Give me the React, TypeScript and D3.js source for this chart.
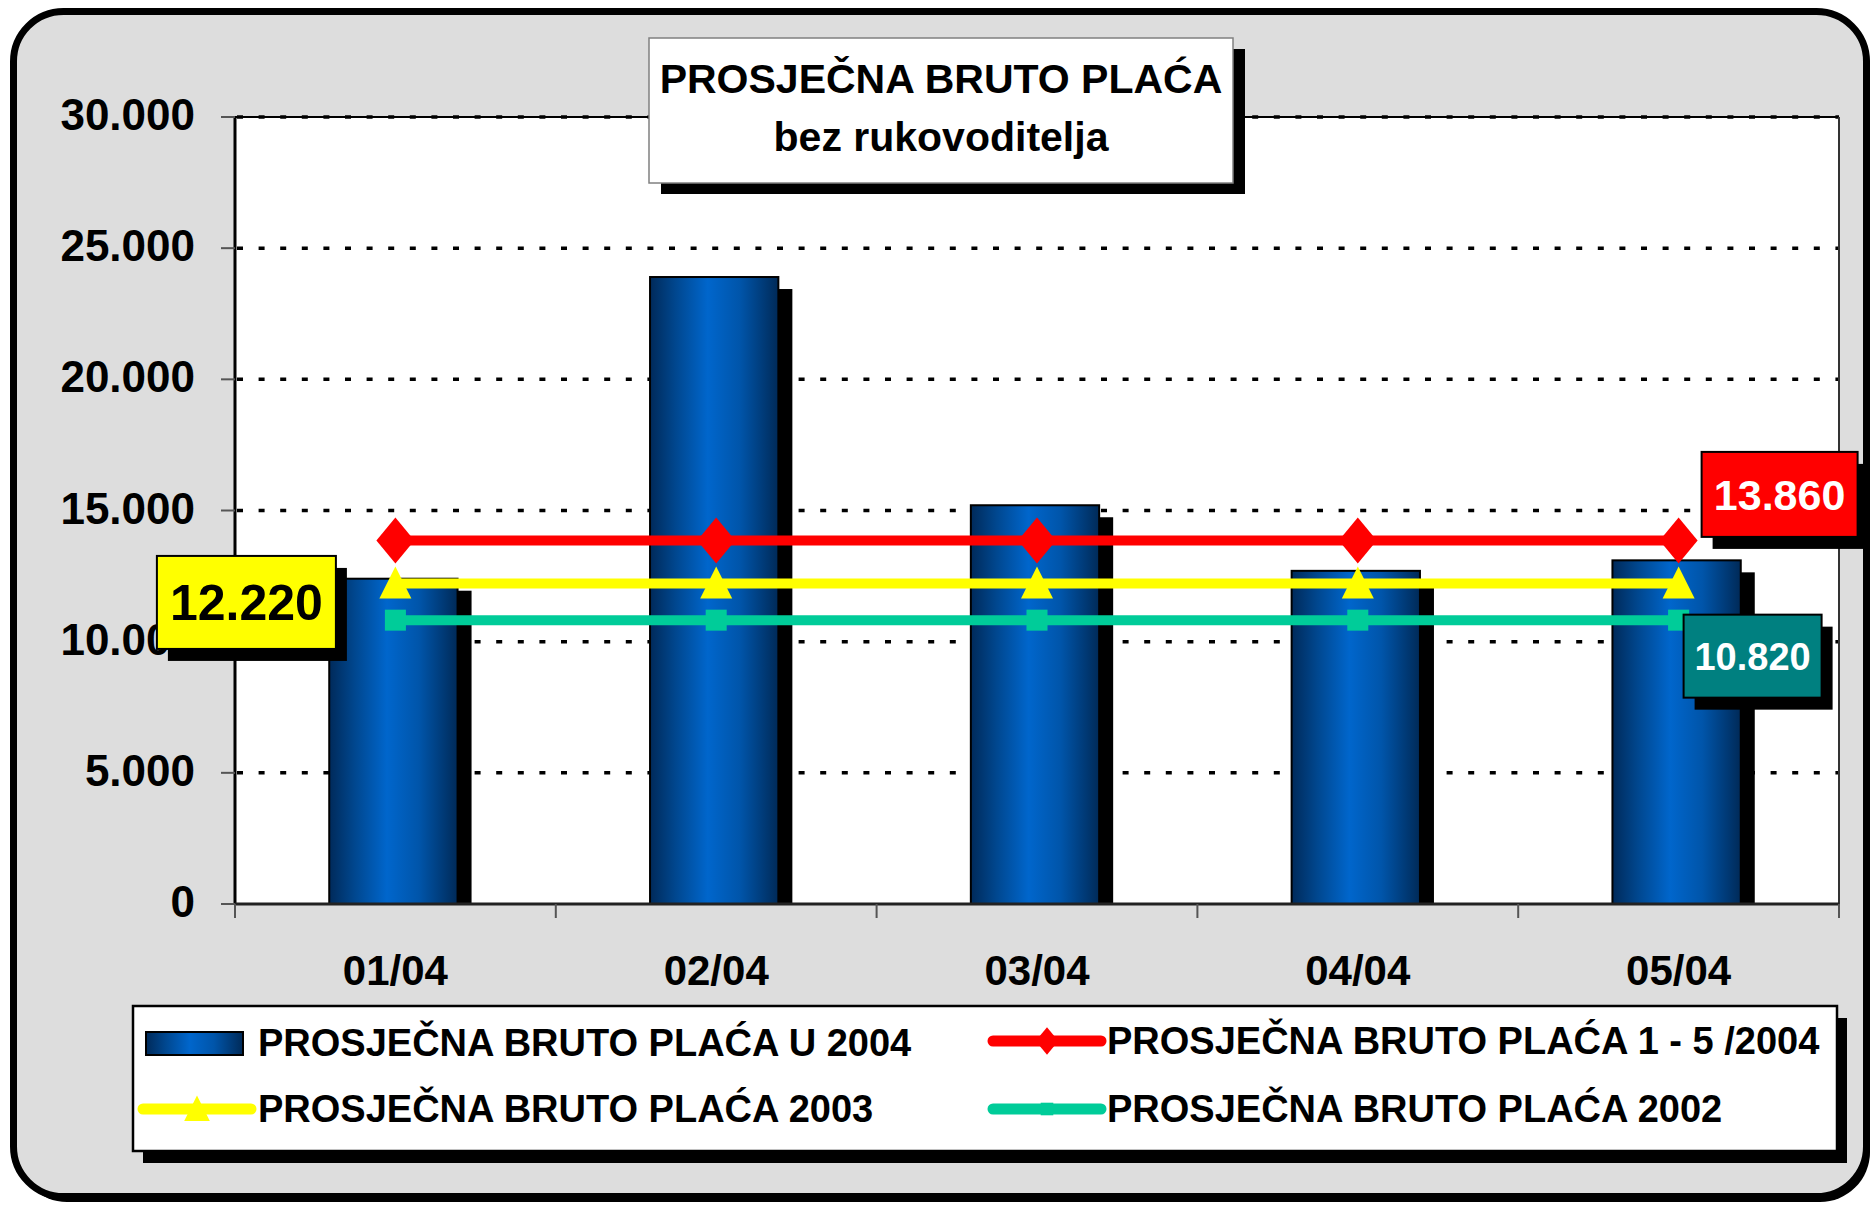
import React from 'react';
import * as d3 from 'd3';

// data
const categories = ['01/04', '02/04', '03/04', '04/04', '05/04'];
const bars2004 = [12400, 23900, 15200, 12700, 13100];
const avg1to5_2004 = [13860, 13860, 13860, 13860, 13860];
const avg2003 = [12220, 12220, 12220, 12220, 12220];
const avg2002 = [10820, 10820, 10820, 10820, 10820];
const yTicks = [0, 5000, 10000, 15000, 20000, 25000, 30000];
const titleLines = ['PROSJEČNA BRUTO PLAĆA', 'bez rukovoditelja'];
const legendLabels = [
  'PROSJEČNA BRUTO PLAĆA U 2004',
  'PROSJEČNA BRUTO PLAĆA 1 - 5 /2004',
  'PROSJEČNA BRUTO PLAĆA 2003',
  'PROSJEČNA BRUTO PLAĆA 2002',
];

const W = 1876;
const H = 1210;
const plot = { left: 235, right: 1839, top: 117, bottom: 904 };
const FONT = '"Liberation Sans", Arial, sans-serif';

const hr = d3.formatLocale({ decimal: ',', thousands: '.', grouping: [3], currency: ['', ''] });
const fmt = hr.format(',d');

const diamond = (s: number) => `M0,${-23 * s}L${19 * s},0L0,${23 * s}L${-19 * s},0Z`;
const triangle = (s: number) => `M0,${-17 * s}L${16 * s},${15 * s}L${-16 * s},${15 * s}Z`;

const App = () => {
  const x = d3.scaleBand<string>().domain(categories).range([plot.left, plot.right]).padding(0);
  const y = d3.scaleLinear().domain([0, 30000]).range([plot.bottom, plot.top]);
  const bw = x.bandwidth() * 0.4;
  const cx = (c: string) => (x(c) as number) + x.bandwidth() / 2;

  const line = d3.line<number>()
    .x((_, i) => cx(categories[i]))
    .y(d => y(d));

  const series = [
    { values: avg2002, color: '#00CC99', marker: 'square' },
    { values: avg2003, color: '#FFFF00', marker: 'triangle' },
    { values: avg1to5_2004, color: '#FF0000', marker: 'diamond' },
  ];

  const marker = (kind: string, color: string, s: number) => {
    if (kind === 'diamond') return <path d={diamond(s)} fill={color} />;
    if (kind === 'triangle') return <path d={triangle(s)} fill={color} />;
    return <rect x={-10.5 * s} y={-10.5 * s} width={21 * s} height={21 * s} fill={color} />;
  };

  const first = categories[0];
  const last = categories[categories.length - 1];

  // data labels: offsets from the point they belong to
  const labels = [
    { v: avg2003[0], c: first, dx: -149, dy: 19, w: 179, h: 93, fill: '#FFFF00', tc: '#000', fs: 50 },
    { v: avg1to5_2004[4], c: last, dx: 101, dy: -46, w: 156, h: 85, fill: '#FF0000', tc: '#fff', fs: 43 },
    { v: avg2002[4], c: last, dx: 74, dy: 36, w: 138, h: 83, fill: '#008080', tc: '#fff', fs: 38 },
  ];

  const legY = 1006;
  const legItems = [
    { label: legendLabels[0], kind: 'bar', x: 146, y: 1043 },
    { label: legendLabels[1], kind: 'diamond', color: '#FF0000', x: 993, y: 1041 },
    { label: legendLabels[2], kind: 'triangle', color: '#FFFF00', x: 143, y: 1109 },
    { label: legendLabels[3], kind: 'square', color: '#00CC99', x: 993, y: 1109 },
  ];

  return (
    <svg width={W} height={H} style={{ position: 'absolute', left: 0, top: 0 }} fontFamily={FONT} fontWeight="bold">
      <defs>
        <linearGradient id="barGrad" x1="0" x2="1" y1="0" y2="0">
          <stop offset="0%" stopColor="#002a5a" />
          <stop offset="20%" stopColor="#00478f" />
          <stop offset="45%" stopColor="#0066cc" />
          <stop offset="70%" stopColor="#0055aa" />
          <stop offset="100%" stopColor="#002a58" />
        </linearGradient>
        <clipPath id="plotClip">
          <rect x={plot.left} y={0} width={plot.right - plot.left} height={plot.bottom} />
        </clipPath>
      </defs>

      {/* outer frame */}
      <rect x={17} y={16} width={1853} height={1186} rx={50} fill="#000" />
      <rect x={13.5} y={11.5} width={1853} height={1185} rx={50} fill="#DDDDDD" stroke="#000" strokeWidth={7} />

      {/* plot area */}
      <rect x={plot.left} y={plot.top} width={plot.right - plot.left} height={plot.bottom - plot.top} fill="#fff" />
      <line x1={plot.left} x2={plot.right} y1={plot.top} y2={plot.top} stroke="#000" strokeWidth={2} />
      {yTicks.filter(t => t > 0).map(t => (
        <line key={t} x1={plot.left + 2} x2={plot.right} y1={y(t)} y2={y(t)}
          stroke="#000" strokeWidth={3.5} strokeDasharray="6 15.6" />
      ))}
      <line x1={plot.right} x2={plot.right} y1={plot.top} y2={plot.bottom} stroke="#333" strokeWidth={2} />

      {/* bars */}
      <g clipPath="url(#plotClip)">
        {categories.map((c, i) => (
          <rect key={'s' + c} x={cx(c) - bw / 2 + 12} y={y(bars2004[i]) + 12} width={bw}
            height={plot.bottom - y(bars2004[i])} fill="#000" />
        ))}
      </g>
      {categories.map((c, i) => (
        <rect key={c} x={cx(c) - bw / 2 - 2} y={y(bars2004[i])} width={bw}
          height={plot.bottom - y(bars2004[i])} fill="url(#barGrad)" stroke="#000" strokeWidth={2} />
      ))}

      {/* axes */}
      <line x1={plot.left} x2={plot.left} y1={plot.top} y2={plot.bottom} stroke="#000" strokeWidth={3} />
      <line x1={plot.left} x2={plot.right} y1={plot.bottom} y2={plot.bottom} stroke="#222" strokeWidth={3} />
      {yTicks.map(t => (
        <g key={t}>
          <line x1={plot.left - 14} x2={plot.left} y1={y(t)} y2={y(t)} stroke="#555" strokeWidth={2} />
          <text x={195} y={y(t) + 13} textAnchor="end" fontSize={44} fill="#000">{fmt(t)}</text>
        </g>
      ))}
      {[...categories.map(c => x(c) as number), plot.right].map((bx, i) => (
        <line key={i} x1={bx} x2={bx} y1={plot.bottom} y2={plot.bottom + 14} stroke="#555" strokeWidth={2} />
      ))}
      {categories.map(c => (
        <text key={c} x={cx(c)} y={985} textAnchor="middle" fontSize={42} fill="#000">{c}</text>
      ))}

      {/* lines with markers */}
      {series.map(s => (
        <g key={s.color}>
          <path d={line(s.values) as string} fill="none" stroke={s.color} strokeWidth={10} />
          {s.values.map((v, i) => (
            <g key={i} transform={`translate(${cx(categories[i])},${y(v)})`}>{marker(s.marker, s.color, 1)}</g>
          ))}
        </g>
      ))}

      {/* data labels */}
      {labels.map((l, i) => {
        const lx = cx(l.c) + l.dx - l.w / 2;
        const ly = y(l.v) + l.dy - l.h / 2;
        return (
          <g key={i}>
            <rect x={lx + 11} y={ly + 12} width={l.w} height={l.h} fill="#000" />
            <rect x={lx} y={ly} width={l.w} height={l.h} fill={l.fill} stroke="#000" strokeWidth={2} />
            <text x={lx + l.w / 2} y={ly + l.h / 2 + l.fs * 0.36} textAnchor="middle" fontSize={l.fs} fill={l.tc}>
              {fmt(l.v)}
            </text>
          </g>
        );
      })}

      {/* title */}
      <rect x={661} y={49} width={584} height={145} fill="#000" />
      <rect x={649} y={38} width={584} height={145} fill="#fff" stroke="#808080" strokeWidth={1.5} />
      <text x={941} y={93} textAnchor="middle" fontSize={41} fill="#000">{titleLines[0]}</text>
      <text x={941} y={151} textAnchor="middle" fontSize={41} fill="#000">{titleLines[1]}</text>

      {/* legend */}
      <rect x={143} y={1018} width={1704} height={145} fill="#000" />
      <rect x={133} y={legY} width={1704} height={145} fill="#fff" stroke="#000" strokeWidth={2.5} />
      {legItems.map(it => (
        <g key={it.label}>
          {it.kind === 'bar' ? (
            <rect x={it.x} y={it.y - 11} width={97} height={23} fill="url(#barGrad)" stroke="#000" strokeWidth={2} />
          ) : (
            <g>
              <line x1={it.x} x2={it.x + 108} y1={it.y} y2={it.y} stroke={it.color} strokeWidth={11} strokeLinecap="round" />
              <g transform={`translate(${it.x + 54},${it.y})`}>
                {marker(it.kind, it.color as string, it.kind === 'triangle' ? 0.8 : 0.6)}
              </g>
            </g>
          )}
          <text x={it.x < 500 ? 258 : 1107} y={it.y + 13} fontSize={38} fill="#000">{it.label}</text>
        </g>
      ))}
    </svg>
  );
};

export default App;
